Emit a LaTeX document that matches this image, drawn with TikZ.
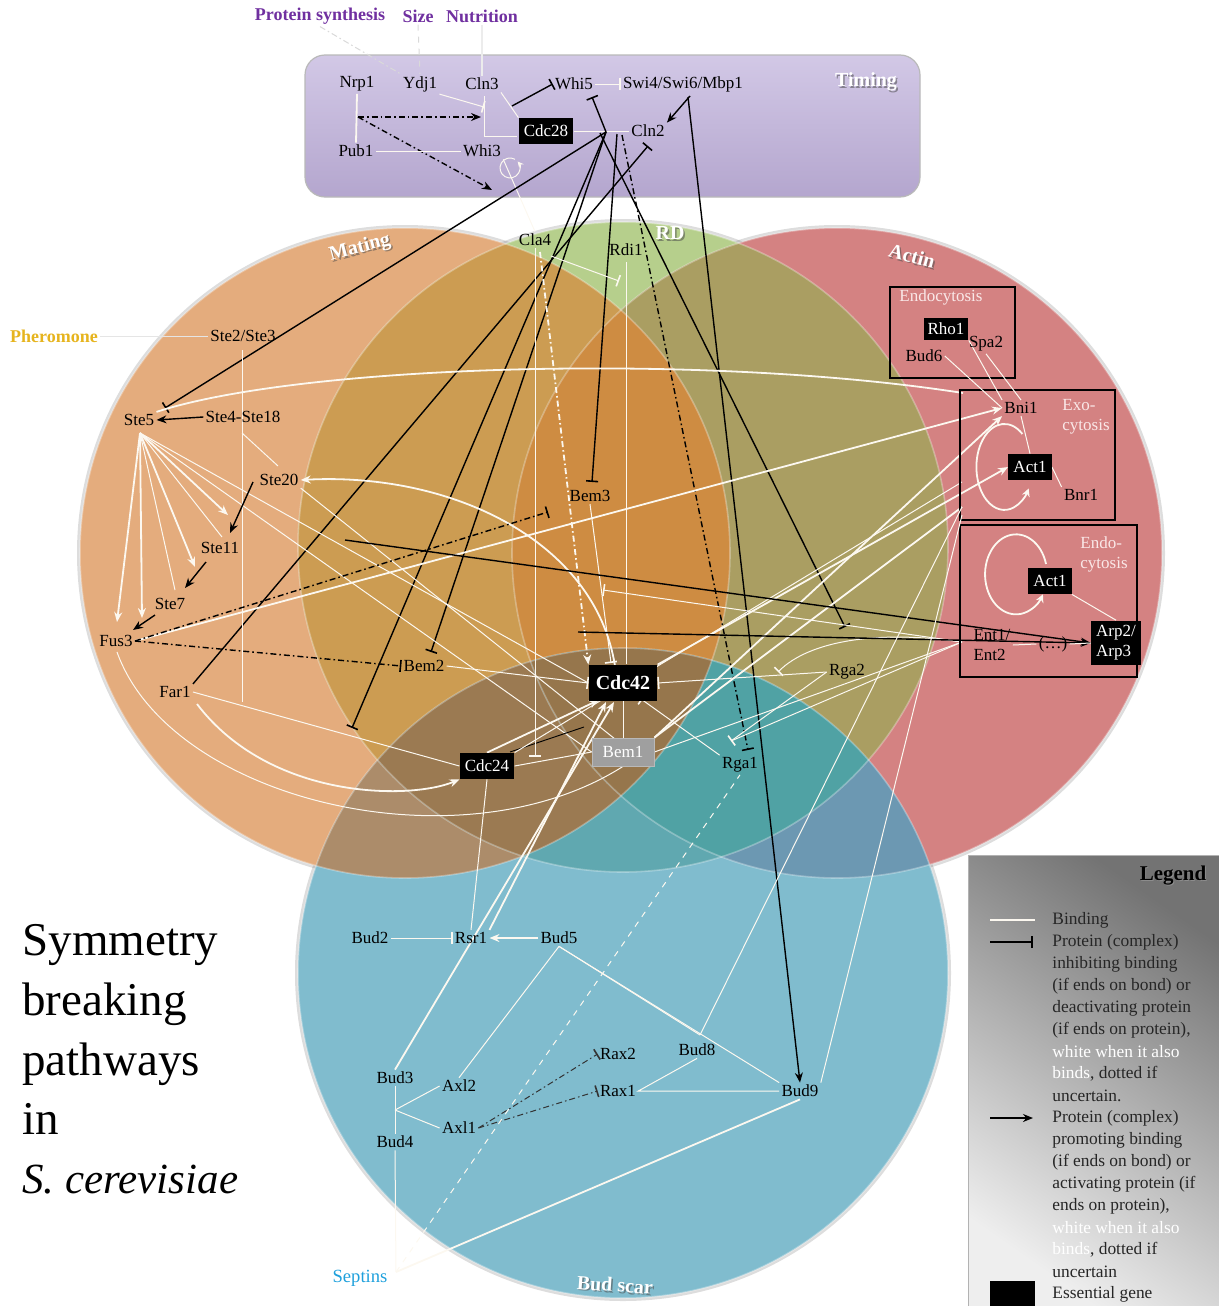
\documentclass[tikz,border=0pt]{standalone}
\usepackage{fontspec}
\setmainfont{Liberation Serif}
\usetikzlibrary{arrows.meta}
\pgfdeclarelayer{circ}
\pgfdeclarelayer{lines}
\pgfsetlayers{circ,lines,main}
\definecolor{cM}{RGB}{228,172,125}
\definecolor{cR}{RGB}{182,207,140}
\definecolor{cA}{RGB}{212,130,130}
\definecolor{cB}{RGB}{128,188,206}
\definecolor{cMR}{RGB}{204,156,82}
\definecolor{cRA}{RGB}{170,158,98}
\definecolor{cMRA}{RGB}{206,140,66}
\definecolor{cBM}{RGB}{172,140,106}
\definecolor{cBR}{RGB}{96,168,176}
\definecolor{cBMR}{RGB}{155,122,82}
\definecolor{cBA}{RGB}{108,152,178}
\definecolor{cBRA}{RGB}{80,162,164}
\definecolor{cBMRA}{RGB}{150,118,76}
\definecolor{wcol}{RGB}{252,248,240}
\definecolor{purp}{RGB}{112,48,160}
\definecolor{pher}{RGB}{230,180,30}
\definecolor{sept}{RGB}{30,160,220}
\definecolor{pinkt}{RGB}{250,232,232}
\definecolor{tTop}{RGB}{210,200,230}
\definecolor{tBot}{RGB}{180,166,206}
\definecolor{lgDark}{RGB}{115,115,115}
\definecolor{lgLight}{RGB}{238,238,238}
\tikzset{
  lbl/.style={font=\fontsize{8.5}{10}\selectfont, inner sep=1pt, text=black},
  inp/.style={font=\bfseries\fontsize{9}{10}\selectfont, inner sep=1pt},
  ess/.style={lbl, fill=black, text=white, inner sep=2.5pt, minimum height=13pt},
  clab/.style={font=\bfseries\fontsize{10}{12}\selectfont, text=white, inner sep=0pt},
  cshad/.style={font=\bfseries\fontsize{10}{12}\selectfont, text=black!70, opacity=.55, inner sep=0pt},
  boxl/.style={lbl, text=pinkt, align=left},
  leg/.style={font=\fontsize{8.7}{10}\selectfont, anchor=west, inner sep=0pt, text=black!85},
  wl/.style={draw=wcol, line width=0.9pt},
  wt/.style={draw=wcol, line width=0.5pt},
  bl/.style={draw=black, line width=0.7pt},
  inh/.style={-{Bar[width=6pt,line width=0.8pt]}},
  arr/.style={-{Stealth[length=5pt,width=4pt]}},
  dd/.style={dash pattern=on 3pt off 1.5pt on 0.8pt off 1.5pt},
  ttl/.style={font=\fontsize{23.5}{28}\selectfont,anchor=base west,inner sep=0pt},
}
\def\cirM{(405,553) circle[radius=162.5pt]}
\def\cirR{(623,547) circle[radius=162.5pt]}
\def\cirA{(837,553) circle[radius=162.5pt]}
\def\cirB{(623,973) circle[radius=162.5pt]}
\begin{document}
\begin{tikzpicture}[x=0.5pt,y=-0.5pt]
\useasboundingbox (0,0) rectangle (1219,1306);

% ---------------- nodes ----------------
\node[inp,text=purp] (nPS) at (320,16) {Protein synthesis};
\node[inp,text=purp] (nSize) at (418,16) {Size};
\node[inp,text=purp] (nNut) at (482,16) {Nutrition};
\node[inp,text=pher] (nPher) at (54,336) {Pheromone};
\node[lbl,font=\fontsize{9.3}{10}\selectfont,text=sept] (nSept) at (360,1278) {Septins};

% timing
\node[lbl] (nNrp) at (357,84) {Nrp1};
\node[lbl] (nYdj) at (420,84) {Ydj1};
\node[lbl] (nCln3) at (482,84) {Cln3};
\node[lbl] (nWhi5) at (574,84) {Whi5};
\node[lbl] (nSwi) at (683,84) {Swi4/Swi6/Mbp1};
\node[ess] (nCdc28) at (546,131) {Cdc28};
\node[lbl] (nCln2) at (648,131) {Cln2};
\node[lbl] (nPub) at (356,151) {Pub1};
\node[lbl] (nWhi3) at (482,151) {Whi3};
\node[cshad] (sTim) at (867.5,83.5) {Timing};
\node[clab] (nTim) at (866,82) {Timing};

% circle labels
\node[cshad,rotate=15] (sMat) at (361.5,249.5) {Mating};
\node[clab,rotate=15] (nMat) at (360,248) {Mating};
\node[cshad] (sRD) at (671.5,234.5) {RD};
\node[clab] (nRD) at (670,233) {RD};
\node[cshad,rotate=-15] (sAct) at (913.5,257.5) {Actin};
\node[clab,rotate=-15] (nActin) at (912,256) {Actin};
\node[cshad,rotate=-4] (sBud) at (616.5,1286.5) {Bud scar};
\node[clab,rotate=-4] (nBudsc) at (615,1285) {Bud scar};

% mating
\node[lbl] (nSte23) at (243,336) {Ste2/Ste3};
\node[lbl] (nSte5) at (139,420) {Ste5};
\node[lbl] (nSte418) at (243,417) {Ste4-Ste18};
\node[lbl] (nSte20) at (279,480) {Ste20};
\node[lbl] (nSte11) at (220,548) {Ste11};
\node[lbl] (nSte7) at (170,604) {Ste7};
\node[lbl] (nFus3) at (116,641) {Fus3};
\node[lbl] (nFar1) at (175,692) {Far1};
\node[lbl] (nCla4) at (535,240) {Cla4};
\node[lbl] (nRdi1) at (626,250) {Rdi1};
\node[lbl] (nBem3) at (590,496) {Bem3};
\node[lbl] (nBem2) at (424,666) {Bem2};
\node[ess,font=\bfseries\fontsize{10}{12}\selectfont,minimum height=18pt,inner sep=3.5pt] (nCdc42) at (623,683) {Cdc42};
\node[ess] (nCdc24) at (487,766) {Cdc24};
\node[ess,fill=gray!75,draw=gray!55,minimum width=31pt,minimum height=14pt] (nBem1) at (623,752) {Bem1};
\node[lbl] (nRga2) at (847,672) {Rga2};
\node[lbl] (nRga1) at (740,765) {Rga1};

% actin
\node[lbl,text=pinkt] (nEndoA) at (941,297) {Endocytosis};
\node[ess,minimum height=11pt,inner sep=2pt] (nRho1) at (946,329) {Rho1};
\node[lbl] (nSpa2) at (986,344) {Spa2};
\node[lbl] (nBud6) at (924,356) {Bud6};
\node[lbl] (nBni1) at (1021,408) {Bni1};
\node[boxl,anchor=north west] (nExo) at (1060,397) {Exo-\\cytosis};
\node[ess] (nAct1a) at (1030,467) {Act1};
\node[lbl] (nBnr1) at (1081,495) {Bnr1};
\node[boxl,anchor=north west] (nEndoB) at (1078,534) {Endo-\\cytosis};
\node[ess] (nAct1b) at (1050,581) {Act1};
\node[lbl,align=left] (nEnt) at (992,645) {Ent1/\\Ent2};
\node[lbl] (nDots) at (1053,644) {(\dots)};
\node[ess,align=left,inner sep=2.5pt] (nArp) at (1116,643) {Arp2/\\Arp3};

% bud scar
\node[lbl] (nBud2) at (370,938) {Bud2};
\node[lbl] (nRsr1) at (471,938) {Rsr1};
\node[lbl] (nBud5) at (559,938) {Bud5};
\node[lbl] (nBud3) at (395,1078) {Bud3};
\node[lbl] (nAxl2) at (459,1086) {Axl2};
\node[lbl] (nAxl1) at (459,1128) {Axl1};
\node[lbl] (nBud4) at (395,1142) {Bud4};
\node[lbl] (nRax2) at (618,1054) {Rax2};
\node[lbl] (nRax1) at (618,1091) {Rax1};
\node[lbl] (nBud8) at (697,1050) {Bud8};
\node[lbl] (nBud9) at (800,1091) {Bud9};

% title
\node[ttl] (tt1) at (22,955) {Symmetry};
\node[ttl] (tt2) at (22,1015) {breaking};
\node[ttl] (tt3) at (22,1075) {pathways};
\node[ttl] (tt4) at (22,1134) {in};
\node[ttl,font=\fontsize{21.5}{28}\selectfont\itshape] (tt5) at (22,1193) {S. cerevisiae};

% legend
\node[font=\bfseries\fontsize{10.5}{12}\selectfont,text=black!45,inner sep=0pt] (lgs) at (1174,877) {Legend};
\node[font=\bfseries\fontsize{10.5}{12}\selectfont,inner sep=0pt] (lgt) at (1173,876) {Legend};
\node[leg] (l1) at (1052,920) {Binding};
\node[leg] (l2) at (1052,942) {Protein (complex)};
\node[leg] (l3) at (1052,964) {inhibiting binding};
\node[leg] (l4) at (1052,986) {(if ends on bond) or};
\node[leg] (l5) at (1052,1008) {deactivating protein};
\node[leg] (l6) at (1052,1030) {(if ends on protein),};
\node[leg,text=white] (l7) at (1052,1052) {white when it also};
\node[leg] (l8) at (1052,1074) {\textcolor{white}{binds}, dotted if};
\node[leg] (l9) at (1052,1096) {uncertain.};
\node[leg] (l10) at (1052,1118) {Protein (complex)};
\node[leg] (l11) at (1052,1140) {promoting binding};
\node[leg] (l12) at (1052,1162) {(if ends on bond) or};
\node[leg] (l13) at (1052,1184) {activating protein (if};
\node[leg] (l14) at (1052,1206) {ends on protein),};
\node[leg,text=white] (l15) at (1052,1228) {white when it also};
\node[leg] (l16) at (1052,1250) {\textcolor{white}{binds}, dotted if};
\node[leg] (l17) at (1052,1272) {uncertain};
\node[leg] (l18) at (1052,1294) {Essential gene};

% ---------------- circles & boxes ----------------
\begin{pgfonlayer}{circ}
\draw[black!60,line width=3pt,opacity=.22] \cirM;
\draw[black!60,line width=3pt,opacity=.22] \cirR;
\draw[black!60,line width=3pt,opacity=.22] \cirA;
\draw[black!60,line width=3pt,opacity=.22] \cirB;
\fill[cM] \cirM;
\fill[cR] \cirR;
\fill[cA] \cirA;
\fill[cB] \cirB;
\begin{scope}\clip \cirM; \fill[cMR] \cirR; \end{scope}
\begin{scope}\clip \cirR; \fill[cRA] \cirA; \end{scope}
\begin{scope}\clip \cirM; \fill[cMRA] \cirA; \end{scope}
\begin{scope}\clip \cirB; \fill[cBM] \cirM; \end{scope}
\begin{scope}\clip \cirB; \fill[cBR] \cirR; \end{scope}
\begin{scope}\clip \cirB; \clip \cirM; \fill[cBMR] \cirR; \end{scope}
\begin{scope}\clip \cirB; \fill[cBA] \cirA; \end{scope}
\begin{scope}\clip \cirB; \clip \cirR; \fill[cBRA] \cirA; \end{scope}
\begin{scope}\clip \cirB; \clip \cirM; \fill[cBMRA] \cirA; \end{scope}
\draw[white,line width=0.8pt,opacity=.3] \cirM;
\draw[white,line width=0.8pt,opacity=.3] \cirR;
\draw[white,line width=0.8pt,opacity=.3] \cirA;
\draw[white,line width=0.8pt,opacity=.3] \cirB;
% timing box
\draw[draw=gray!55,line width=0.6pt,rounded corners=10pt,top color=tTop,bottom color=tBot] (305,55) rectangle (920,197);
% legend box
\shade[top color=lgDark,bottom color=lgLight,shading angle=-35] (968,855) rectangle (1219,1306);
\draw[gray!60,line width=0.5pt] (968,855) rectangle (1219,1306);
\end{pgfonlayer}

% ---------------- connectors ----------------
\begin{pgfonlayer}{lines}
% coordinates
\coordinate (J) at (606,132);
\coordinate (brkTop) at (484,96);
\coordinate (brkY) at (484,107);
\coordinate (brkBot) at (484,136);
\coordinate (brkEnd) at (517,136);
\coordinate (b1) at (512,106);
\coordinate (np1) at (358,117);
\coordinate (np2) at (481,117);
\coordinate (w3a) at (492,190);
\coordinate (whi5b) at (592,97);
\coordinate (swiA) at (690,96);
\coordinate (swiB) at (688,97);
\coordinate (ste5b) at (165,408);
\coordinate (cln2b) at (648,146);
\coordinate (bem2b) at (431,652);
\coordinate (c24b) at (352,728);
\coordinate (j2) at (617,134);
\coordinate (bem3b) at (592,482);
\coordinate (j3) at (600,133);
\coordinate (rga2b) at (845,627);
\coordinate (j4) at (622,135);
\coordinate (rga1b) at (748,750);

% timing
\draw[gray!30,line width=0.5pt,dd] (nPS.south) -- (nYdj.north west);
\draw[gray!30,line width=0.5pt,dashed] (nSize.south) -- (nYdj.north);
\draw[wl,draw=white!85!gray] (nNut.south) -- (nCln3.north);
\draw[wl] (nNrp.south) -- (nPub.north);
\draw[bl,dd,arr] (np1) -- (np2);
\draw[bl,dd,arr] (np1) -- (w3a);
\draw[wt] (nPub.east) -- (nWhi3.west);
\draw[wt,-{Stealth[length=3pt,width=3pt]}] (515,159.3) arc[start angle=60,end angle=400,radius=5pt];
\draw[wt] (nWhi3.south east) -- (nCla4.north);
\draw[wt,inh] (nYdj.south east) -- (brkY);
\draw[wt] (brkTop) -- (brkBot) -- (brkEnd);
\draw[wt] (nCln3.south east) -- (nCdc28.north west);
\draw[bl,inh] (b1) -- (nWhi5.west);
\draw[wt,inh] (nWhi5.east) -- (nSwi.west);
\draw[wt] (nCdc28.east) -- (nCln2.west);
\draw[bl,inh] (J) -- (whi5b);
\draw[bl,arr] (swiA) -- (nCln2.north east);
\draw[bl,arr] (swiB) -- (nBud9.north);
% long black lines
\draw[bl,inh] (J) -- (ste5b);
\draw[bl,inh] (nFar1.north east) -- (cln2b);
\draw[bl,inh] (J) -- (bem2b);
\draw[bl,inh] (J) -- (c24b);
\draw[bl,inh] (j2) -- (bem3b);
\draw[bl,inh] (j3) -- (rga2b);
\draw[bl,dd,inh] (j4) -- (rga1b);

% mating
\coordinate (v1) at (242,350);
\coordinate (v2) at (242,702);
\coordinate (v3) at (242,433);
\coordinate (s20a) at (278,466);
\coordinate (s5o) at (140,433);
\draw[wt,draw=white!80!gray] (nPher.east) -- (nSte23.west);
\draw[wt] (v1) -- (v2);
\draw[bl,arr] (nSte418.west) -- (nSte5.east);
\draw[wt] (v3) -- (s20a);
\coordinate (f1) at (117,622);
\coordinate (f2) at (142,618);
\coordinate (f3) at (175,590);
\coordinate (f4) at (195,567);
\coordinate (f5) at (222,537);
\coordinate (f6) at (228,515);
\draw[wl,arr] (s5o) -- (f1);
\draw[wl,arr] (s5o) -- (f2);
\draw[wt] (s5o) -- (f3);
\draw[wl,arr] (s5o) -- (f4);
\draw[wt] (s5o) -- (f5);
\draw[wl,arr] (s5o) -- (f6);
\draw[wt] (s5o) -- (nCdc42.west);
\draw[wt] (s5o) -- (nBem1.west);
\coordinate (a20s) at (253,482);
\coordinate (a11e) at (230,533);
\coordinate (a11s) at (206,562);
\coordinate (a7e) at (185,588);
\coordinate (a7s) at (155,615);
\coordinate (afe) at (133,630);
\draw[bl,arr] (a20s) -- (a11e);
\draw[bl,arr] (a11s) -- (a7e);
\draw[bl,arr] (a7s) -- (afe);
\coordinate (exoL) at (963,393);
\draw[wl] (nSte5.north east) .. controls (300,365) and (700,352) .. (exoL);
\coordinate (c42t) at (615,666);
\draw[wl,arr] (c42t) .. controls (595,540) and (450,472) .. (nSte20.east);
\coordinate (b1t) at (615,739);
\draw[wt] (nSte20.south east) -- (b1t);
\coordinate (far1s) at (197,704);
\draw[wl,arr] (far1s) .. controls (270,800) and (410,800) .. (nCdc24.south west);
\draw[wt] (nFar1.east) -- (nCdc24.west);
\coordinate (fus3s) at (117,652);
\draw[wt] (fus3s) .. controls (170,800) and (460,870) .. (nBem1.south);
\draw[wl,arr] (nFus3.east) -- (nBni1.west);
\coordinate (bem3x) at (548,512);
\draw[bl,dd,inh] (nFus3.east) -- (bem3x);
\draw[bl,dd,inh] (nFus3.east) -- (nBem2.west);
\draw[wt,inh] (nBem2.east) -- (nCdc42.west);
\coordinate (c42b) at (599,700);
\draw[wl,arr] (nCdc24.north) -- (c42b);
\coordinate (k1) at (510,752);
\coordinate (k2) at (584,727);
\draw[black,line width=0.45pt] (k1) -- (k2);
\draw[wt] (nCdc24.east) -- (nBem1.west);
\coordinate (cla4b) at (535,757);
\draw[wt,inh] (nCla4.south) -- (cla4b);
\coordinate (cla4s) at (540,252);
\draw[wl,dd,arr] (cla4s) -- (nCdc42.north west);
\coordinate (cla4r) at (551,256);
\coordinate (rdib) at (619,281);
\draw[wt,inh] (cla4r) -- (rdib);
\coordinate (rdi1s) at (626,262);
\coordinate (c42n) at (626,664);
\draw[wt] (rdi1s) -- (c42n);
\draw[wt] (nCdc42.south) -- (nBem1.north);
\coordinate (c42tl) at (611,663);
\draw[wt,inh] (nBem3.south) -- (c42tl);
\draw[wt,inh] (nRga2.west) -- (nCdc42.east);
\coordinate (c42br) at (641,699);
\draw[wt,inh] (nRga1.north west) -- (c42br);
\coordinate (rga1bar) at (731,741);
\draw[wt,inh] (nRga2.west) -- (rga1bar);
\coordinate (entL) at (962,642);
\draw[wt] (entL) -- (rga1bar);
\coordinate (rga2bar) at (778,672);
\draw[wt,inh] (entL) .. controls (880,630) and (810,640) .. (rga2bar);
\draw[wl,arr] (nCdc42.north east) -- (nAct1a.west);
\draw[wl,arr] (nBem1.north east) -- (nBni1.south west);
\draw[wt] (nBem1.east) -- (entL);
\coordinate (rdibond) at (603,590);
\draw[wt,inh] (entL) -- (rdibond);
\coordinate (exo1) at (962,482);
\coordinate (exo2) at (962,507);
\coordinate (exo3) at (962,515);
\draw[wt] (nCdc24.north east) -- (exo1);
\draw[wl] (nBem1.north east) -- (exo2);
% long black arrows to Arp
\coordinate (ba1) at (345,540);
\coordinate (ba2) at (578,632);
\draw[bl,arr] (ba1) -- (nArp.west);
\draw[bl,arr] (ba2) -- (nArp.west);

% actin boxes
\draw[black,line width=0.8pt] (890,287) rectangle (1015,378);
\draw[black,line width=0.8pt] (960,390) rectangle (1115,520);
\draw[black,line width=0.8pt] (960,525) rectangle (1137,677);
\draw[wt] (nRho1.south east) -- (nBni1.north west);
\draw[wt] (nSpa2.south) -- (nBni1.north);
\draw[wt] (nBud6.east) -- (nBni1.west);
\draw[wt] (nBni1.south) -- (nAct1a.north);
\draw[wt] (nAct1a.east) -- (nBnr1.north west);
\draw[wt] (nAct1b.south east) -- (nArp.north);
\draw[wt] (nEnt.east) -- (nDots.west);
\draw[wt] (nDots.east) -- (nArp.west);
\draw[wl,-{Stealth[length=4pt,width=4pt]}] (1022.4,434) arc[start angle=50,end angle=330,x radius=14pt,y radius=21.5pt];
\draw[wl,-{Stealth[length=4pt,width=4pt]}] (1046,564) arc[start angle=15,end angle=330,x radius=15.5pt,y radius=20pt];

% bud scar
\coordinate (c42b2) at (606,702);
\coordinate (c42b3) at (614,702);
\draw[wl,arr] (nRsr1.north east) -- (c42b2);
\draw[wl,arr] (nBud3.north) -- (c42b3);
\draw[wt] (nRsr1.north) -- (nCdc24.south);
\draw[wt,inh] (nBud2.east) -- (nRsr1.west);
\draw[wl,arr] (nBud5.west) -- (nRsr1.east);
\draw[wt] (nBud5.south) -- (nAxl2.north);
\coordinate (b8p) at (700,1035);
\draw[wt] (nBud5.south) -- (b8p);
\draw[wt] (nBud5.south) -- (nBud9.north west);
\draw[wt] (b8p) -- (exo2);
\draw[wt] (nBud8.south) -- (nRax1.east) -- (nBud9.west);
\draw[wt] (nBud9.north east) -- (exo3);
\draw[black!80,line width=0.5pt,dd,inh] (nAxl1.east) -- (nRax2.west);
\draw[black!80,line width=0.5pt,dd,inh] (nAxl1.east) -- (nRax1.west);
\coordinate (bb) at (395,1110);
\draw[wt] (nBud3.south) -- (nBud4.north);
\draw[wt] (bb) -- (nAxl2.west);
\draw[wt] (bb) -- (nAxl1.west);
\coordinate (sep1) at (396,1272);
\draw[wt] (nBud4.south) -- (sep1);
\draw[wl] (sep1) -- (nBud9.south);
\draw[wt,dashed] (sep1) -- (nRga1.south);

% legend samples
\coordinate (lg1a) at (990,920); \coordinate (lg1b) at (1035,920);
\coordinate (lg2a) at (990,942); \coordinate (lg2b) at (1033,942);
\coordinate (lg3a) at (990,1118); \coordinate (lg3b) at (1033,1118);
\draw[wl] (lg1a) -- (lg1b);
\draw[bl,inh] (lg2a) -- (lg2b);
\draw[bl,arr] (lg3a) -- (lg3b);
\fill[black] (990,1281) rectangle (1035,1306);
\end{pgfonlayer}
\end{tikzpicture}
\end{document}
